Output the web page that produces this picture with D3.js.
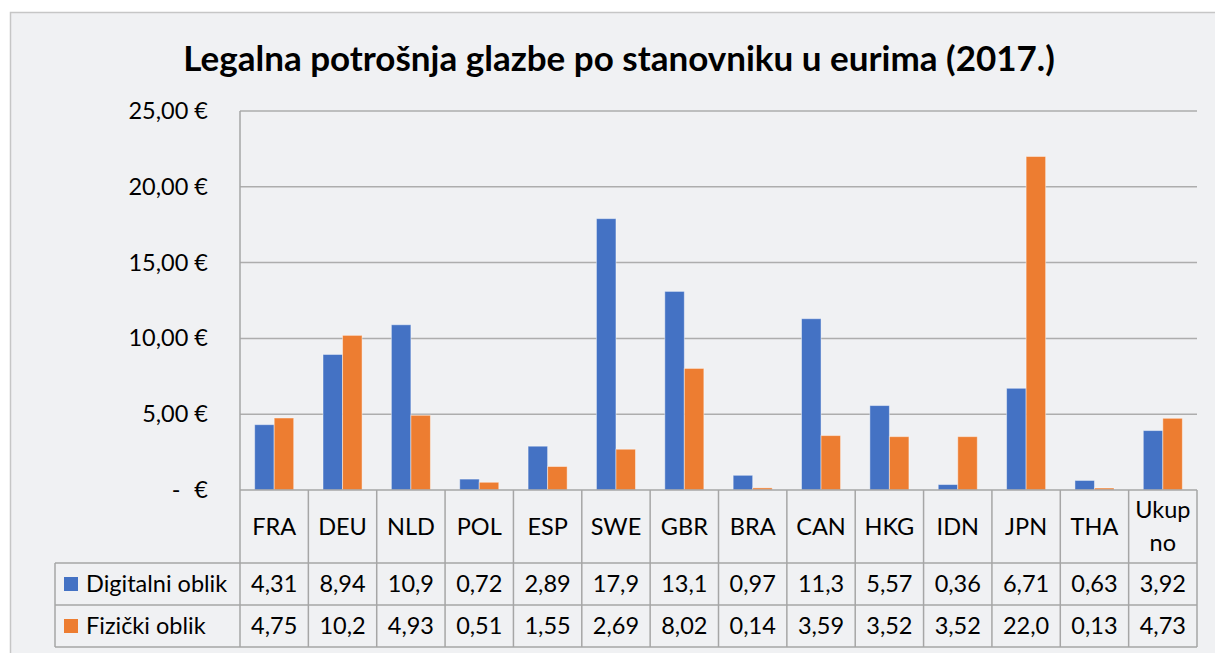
<!DOCTYPE html>
<html>
<head>
<meta charset="utf-8">
<script src="https://cdn.jsdelivr.net/npm/d3@7"></script>
<style>
  body { margin: 0; background: #ffffff; }
  text { font-family: Lato, "Open Sans", sans-serif; fill: #000; }
</style>
</head>
<body>
<div id="chart-box"></div>
<script>
// data
const categories = ["FRA","DEU","NLD","POL","ESP","SWE","GBR","BRA","CAN","HKG","IDN","JPN","THA","Ukupno"];
const catLines = [["FRA"],["DEU"],["NLD"],["POL"],["ESP"],["SWE"],["GBR"],["BRA"],["CAN"],["HKG"],["IDN"],["JPN"],["THA"],["Ukup","no"]];
const digital = [4.31, 8.94, 10.9, 0.72, 2.89, 17.9, 13.1, 0.97, 11.3, 5.57, 0.36, 6.71, 0.63, 3.92];
const physical = [4.75, 10.2, 4.93, 0.51, 1.55, 2.69, 8.02, 0.14, 3.59, 3.52, 3.52, 22.0, 0.13, 4.73];
const digitalText = ["4,31","8,94","10,9","0,72","2,89","17,9","13,1","0,97","11,3","5,57","0,36","6,71","0,63","3,92"];
const physicalText = ["4,75","10,2","4,93","0,51","1,55","2,69","8,02","0,14","3,59","3,52","3,52","22,0","0,13","4,73"];
const seriesNames = ["Digitalni oblik","Fizički oblik"];
const yTicks = [0, 5, 10, 15, 20, 25];
const titleText = "Legalna potrošnja glazbe po stanovniku u eurima (2017.)";

const w = 1215, h = 653;
const colors = ["#4472C4", "#ED7D31"];
const plot = {left: 240, right: 1197, top: 111, bottom: 490};
const rowCat = 563, row1 = 605, row2 = 647, tableLeft = 55;
const fs = "23.5px";

const svg = d3.select("#chart-box")
  .append("svg")
  .attr("width", w)
  .attr("height", h);

// chart background and frame
svg.append("rect")
  .attr("x", 10).attr("y", 12)
  .attr("width", w - 10).attr("height", h - 12)
  .style("fill", "#f0f1f3");
svg.append("path")
  .attr("d", `M10.5,${h} V12.5 H${w}`)
  .style("fill", "none").style("stroke", "#c6c6c6").style("stroke-width", 1.5);

// title
svg.append("text")
  .attr("x", 619).attr("y", 71)
  .attr("text-anchor", "middle")
  .style("font-size", "35px").style("font-weight", "bold")
  .text(titleText);

// scales
const xScale = d3.scaleBand()
  .domain(categories)
  .range([plot.left, plot.right]);
const xSub = d3.scaleBand()
  .domain([0, 1])
  .range([0, xScale.bandwidth()])
  .paddingOuter(0.75)
  .paddingInner(0);
const yScale = d3.scaleLinear()
  .domain([0, 25])
  .range([plot.bottom, plot.top]);

// gridlines
svg.append("g")
  .selectAll("line")
  .data(yTicks.filter(d => d > 0))
  .enter()
  .append("line")
  .attr("x1", plot.left).attr("x2", plot.right)
  .attr("y1", d => yScale(d)).attr("y2", d => yScale(d))
  .style("stroke", "#adadad").style("stroke-width", 1.5);

// y labels
const yLab = svg.append("g");
yTicks.forEach(t => {
  if (t === 0) {
    yLab.append("text").attr("x", 176).attr("y", yScale(t) + 8)
      .attr("text-anchor", "middle").style("font-size", fs).text("-");
    yLab.append("text").attr("x", 208).attr("y", yScale(t) + 8)
      .attr("text-anchor", "end").style("font-size", fs).text("€");
  } else {
    yLab.append("text").attr("x", 208).attr("y", yScale(t) + 8)
      .attr("text-anchor", "end").style("font-size", fs)
      .text(d3.format(".2f")(t).replace(".", ",") + " €");
  }
});

// bars
const series = [digital, physical];
series.forEach((vals, s) => {
  svg.append("g")
    .selectAll("rect")
    .data(vals)
    .enter()
    .append("rect")
    .attr("x", (d, i) => xScale(categories[i]) + xSub(s))
    .attr("width", xSub.bandwidth())
    .attr("y", d => yScale(d))
    .attr("height", d => yScale(0) - yScale(d))
    .style("fill", colors[s])
    .style("stroke", "#ffffff").style("stroke-opacity", 0.45).style("stroke-width", 1);
});

// data table
const grid = svg.append("g").style("stroke", "#a6a6a6").style("stroke-width", 1.5);
grid.append("line").attr("x1", plot.left).attr("x2", plot.right).attr("y1", plot.bottom).attr("y2", plot.bottom);
grid.append("line").attr("x1", tableLeft).attr("x2", plot.right).attr("y1", rowCat).attr("y2", rowCat);
grid.append("line").attr("x1", tableLeft).attr("x2", plot.right).attr("y1", row1).attr("y2", row1);
grid.append("line").attr("x1", tableLeft).attr("x2", plot.right).attr("y1", row2).attr("y2", row2);
grid.append("line").attr("x1", tableLeft).attr("x2", tableLeft).attr("y1", rowCat).attr("y2", row2);
grid.append("line").attr("x1", plot.left).attr("x2", plot.left).attr("y1", plot.top).attr("y2", row2);
grid.selectAll(".col")
  .data(categories)
  .enter()
  .append("line")
  .attr("x1", d => xScale(d) + xScale.bandwidth()).attr("x2", d => xScale(d) + xScale.bandwidth())
  .attr("y1", plot.bottom).attr("y2", row2);

// category labels
catLines.forEach((lines, i) => {
  const cx = xScale(categories[i]) + xScale.bandwidth() / 2;
  const mid = (plot.bottom + rowCat) / 2;
  lines.forEach((ln, j) => {
    svg.append("text")
      .attr("x", cx)
      .attr("y", mid + 8 + (j - (lines.length - 1) / 2) * 33)
      .attr("text-anchor", "middle")
      .style("font-size", fs)
      .text(ln);
  });
});

// series rows
const texts = [digitalText, physicalText];
const rowTops = [rowCat, row1];
texts.forEach((arr, s) => {
  const cy = (rowTops[s] + rowTops[s] + 42) / 2;
  svg.append("rect")
    .attr("x", 64).attr("y", cy - 7)
    .attr("width", 14).attr("height", 14)
    .style("fill", colors[s]);
  svg.append("text")
    .attr("x", 86).attr("y", cy + 8)
    .style("font-size", fs)
    .text(seriesNames[s]);
  svg.append("g")
    .selectAll("text")
    .data(arr)
    .enter()
    .append("text")
    .attr("x", (d, i) => xScale(categories[i]) + xScale.bandwidth() / 2)
    .attr("y", cy + 8)
    .attr("text-anchor", "middle")
    .style("font-size", fs)
    .text(d => d);
});
</script>
</body>
</html>
